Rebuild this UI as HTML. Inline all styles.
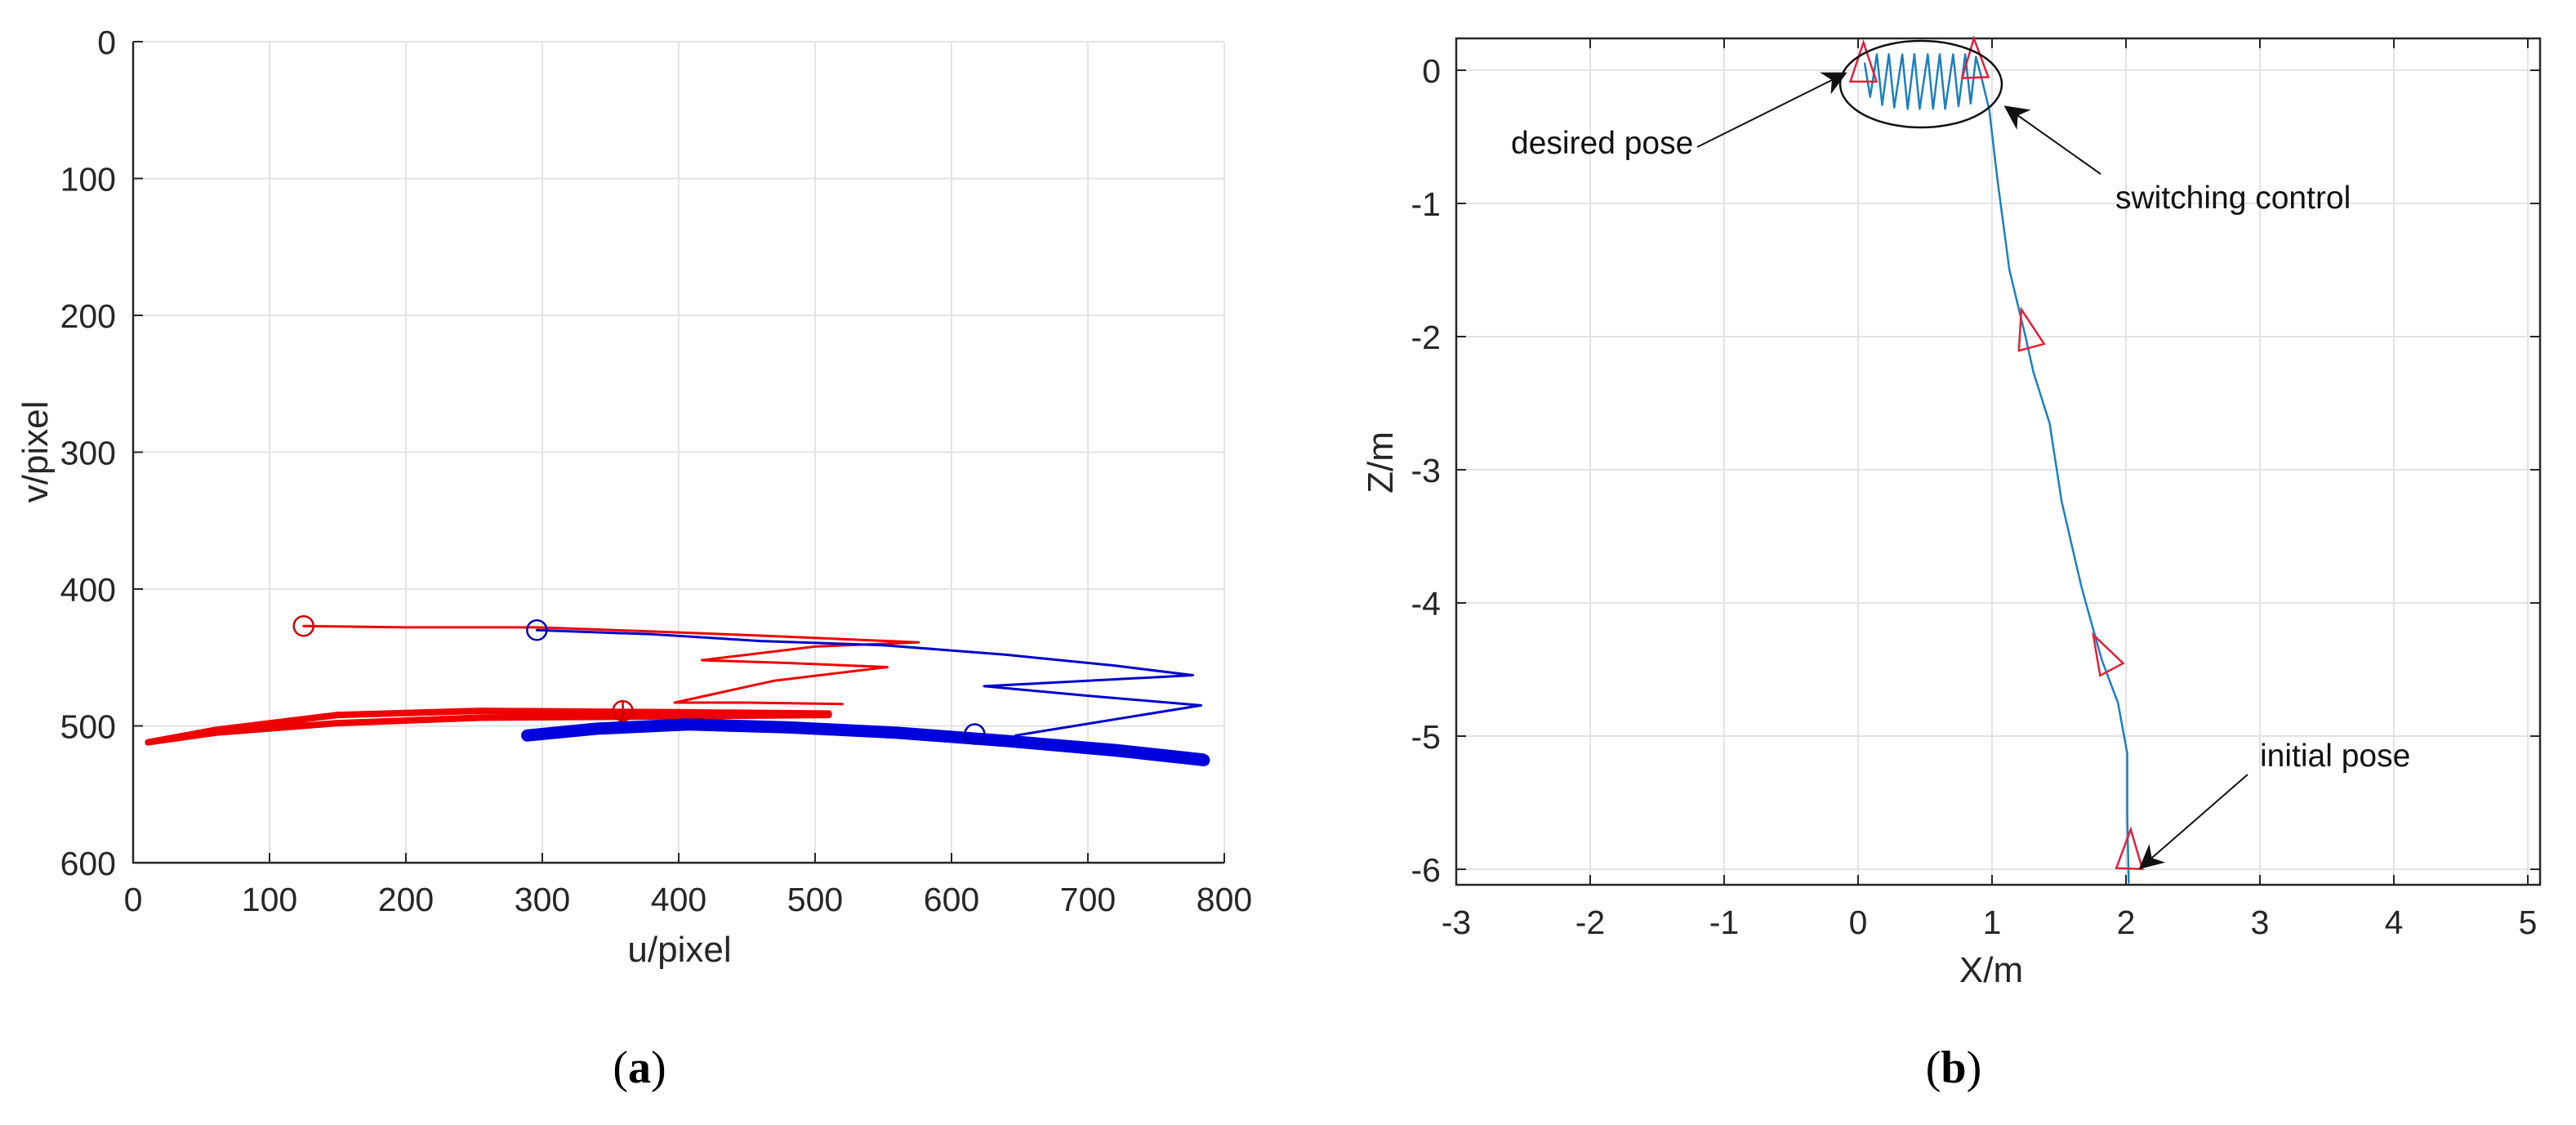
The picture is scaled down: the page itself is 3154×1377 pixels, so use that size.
<!DOCTYPE html>
<html><head><meta charset="utf-8"><style>
body{margin:0;background:#fff;overflow:hidden}
svg{display:block}
text{font-family:"Liberation Sans",sans-serif;fill:#262626}
</style></head><body>
<svg id="s" width="3154" height="1377" viewBox="0 0 3154 1377"></svg>
<script>
// ---- panel (a) data ----
const uTicks=[0,100,200,300,400,500,600,700,800];
const vTicks=[0,100,200,300,400,500,600];
const redU=[125,200,296,380,460,576,500,417,480,553,470,397,450,520];
const redV=[427,428,428,431,434,439,442,452,454,457,467,483,483,484];
const redBandU=[510,400,254,150,60,11,60,150,254,400,510];
const redBandV=[491,490,489,492,503,512,505,498,494,493,492];
const blueU=[296,380,460,550,640,720,777,624,700,783,647];
const blueV=[430,433,438,441,448,456,463,471,478,485,507];
const blueLowU=[647,720,785];
const blueLowV=[508,514,521];
const blueBandU=[289,340,407,480,560,640,720,785];
const blueBandV=[507,502,499,501,505,511,518,525];
const redStart=[125,427], redEnd=[359,489], blueStart=[296,430], blueEnd=[617,506];
// ---- panel (b) data ----
const xTicks=[-3,-2,-1,0,1,2,3,4,5];
const zTicks=[0,-1,-2,-3,-4,-5,-6];
const pathX=[2.02,2.01,2.01,1.94,1.82,1.67,1.52,1.43,1.31,1.25,1.13,1.04,0.98,0.92,0.88];
const pathZ=[-6.1,-5.6,-5.13,-4.75,-4.43,-3.89,-3.24,-2.65,-2.27,-2.0,-1.5,-0.82,-0.3,-0.05,0.1];
const zigX=[0.88,0.84,0.80,0.75,0.71,0.65,0.61,0.56,0.52,0.46,0.42,0.37,0.33,0.27,0.23,0.18,0.14,0.09,0.05];
const zigZ=[0.1,-0.25,0.12,-0.27,0.12,-0.29,0.12,-0.29,0.12,-0.29,0.12,-0.29,0.12,-0.28,0.12,-0.26,0.12,-0.2,0.05];
const triX=[0.04,0.87,1.26,1.83,2.03];
const triZ=[0.05,0.08,-1.95,-4.38,-5.86];
const triA=[-90,-92,-105,-118,-88];

const NS="http://www.w3.org/2000/svg", S=document.getElementById('s');
function mk(t,a,p){const e=document.createElementNS(NS,t);for(const k in a)e.setAttribute(k,a[k]);(p||S).appendChild(e);return e;}
const ax=u=>163+u*1.67, ay=v=>51+v*1.675;
const bx=x=>1783+(x+3)*164, by=z=>86-z*163;

// panel a
let g=mk('g',{});
uTicks.forEach(u=>{let l=mk('line',{x1:ax(u),x2:ax(u),y1:51,y2:1056,stroke:'#e3e3e3','stroke-width':2},g);
 let t=mk('text',{x:ax(u),y:1115,'font-size':41,'text-anchor':'middle'},g);t.textContent=u;
 mk('line',{x1:ax(u),x2:ax(u),y1:1056,y2:1044,stroke:'#262626','stroke-width':2},g);});
vTicks.forEach(v=>{let l=mk('line',{x1:163,x2:1499,y1:ay(v),y2:ay(v),stroke:'#e3e3e3','stroke-width':2},g);
 let t=mk('text',{x:142,y:ay(v)+15,'font-size':41,'text-anchor':'end'},g);t.textContent=v;
 mk('line',{x1:163,x2:175,y1:ay(v),y2:ay(v),stroke:'#262626','stroke-width':2},g);});
mk('path',{d:'M163 51V1056H1499',fill:'none',stroke:'#262626','stroke-width':2.5},g);
let t=mk('text',{x:832,y:1177,'font-size':44,'text-anchor':'middle'},g);t.textContent='u/pixel';
t=mk('text',{x:0,y:0,'font-size':44,'text-anchor':'middle',transform:'translate(58,553) rotate(-90)'},g);t.textContent='v/pixel';
function poly(X,Y,fx,fy,col,w,name,p){const pts=X.map((x,i)=>fx(x).toFixed(1)+','+fy(Y[i]).toFixed(1)).join(' ');const e=mk('polyline',{points:pts,fill:'none',stroke:col,'stroke-width':w,'stroke-linejoin':'round','stroke-linecap':'round'},p);return e;}
poly(redU,redV,ax,ay,'#e00','3','red-trajectory',g);
poly(redBandU,redBandV,ax,ay,'#e00','8','red-trajectory-settled',g);
poly(blueU,blueV,ax,ay,'#0000cc','3','blue-trajectory',g);
poly(blueLowU,blueLowV,ax,ay,'#0000cc','3','blue-trajectory-lower',g);
poly(blueBandU,blueBandV,ax,ay,'#0000dd','15','blue-trajectory-settled',g);
[[redStart,'#c00','red-start'],[blueStart,'#00a','blue-start'],[redEnd,'#c00','red-end'],[blueEnd,'#00a','blue-end']].forEach(([p,c,n])=>{let e=mk('circle',{cx:ax(p[0]),cy:ay(p[1]),r:12,fill:'none',stroke:c,'stroke-width':2.5},g);});
mk('line',{x1:ax(redEnd[0]),x2:ax(redEnd[0]),y1:ay(redEnd[1])-12,y2:ay(redEnd[1])+12,stroke:'#c00','stroke-width':2.5},g);
t=mk('text',{x:783,y:1325,'font-size':56,'text-anchor':'middle'});t.style.fontFamily='"Liberation Serif",serif';t.style.fill='#000';t.innerHTML='(<tspan font-weight="bold">a</tspan>)';

// panel b
g=mk('g',{});
const L=1783,R=3110,T=47,B=1083;
xTicks.forEach(x=>{let l=mk('line',{x1:bx(x),x2:bx(x),y1:T,y2:B,stroke:'#e3e3e3','stroke-width':2},g);
 let t=mk('text',{x:bx(x),y:1143,'font-size':41,'text-anchor':'middle'},g);t.textContent=x;
 mk('line',{x1:bx(x),x2:bx(x),y1:B,y2:B-12,stroke:'#262626','stroke-width':2},g);mk('line',{x1:bx(x),x2:bx(x),y1:T,y2:T+12,stroke:'#262626','stroke-width':2},g);});
zTicks.forEach(z=>{let l=mk('line',{x1:L,x2:R,y1:by(z),y2:by(z),stroke:'#e3e3e3','stroke-width':2},g);
 let t=mk('text',{x:1764,y:by(z)+15,'font-size':41,'text-anchor':'end'},g);t.textContent=z;
 mk('line',{x1:L,x2:L+12,y1:by(z),y2:by(z),stroke:'#262626','stroke-width':2},g);mk('line',{x1:R,x2:R-12,y1:by(z),y2:by(z),stroke:'#262626','stroke-width':2},g);});
mk('rect',{x:L,y:T,width:R-L,height:B-T,fill:'none',stroke:'#262626','stroke-width':2.5},g);
t=mk('text',{x:2438,y:1202,'font-size':44,'text-anchor':'middle'},g);t.textContent='X/m';
t=mk('text',{x:0,y:0,'font-size':44,'text-anchor':'middle',transform:'translate(1705,566) rotate(-90)'},g);t.textContent='Z/m';
poly(pathX,pathZ,bx,by,'#1a7fc0','2.5','trajectory-path',g);
poly(zigX,zigZ,bx,by,'#1a7fc0','2.5','switching-zigzag',g);
triX.forEach((x,i)=>{const cx=bx(x),cy=by(triZ[i]);const e=mk('polygon',{points:'26,0 -22,-16 -22,16',fill:'none',stroke:'#e0203a','stroke-width':2.5,transform:`translate(${cx},${cy}) rotate(${triA[i]})`},g);});
let e=mk('ellipse',{cx:2352,cy:103,rx:99,ry:53,fill:'none',stroke:'#111','stroke-width':2.5},g);
mk('defs',{}).innerHTML='<marker id="ah" viewBox="0 0 10 10" refX="9" refY="5" markerWidth="14" markerHeight="14" markerUnits="userSpaceOnUse" orient="auto"><path d="M0,0 L10,5 L0,10 L3,5z" fill="#111"/></marker>';
S.querySelector('marker').setAttribute('markerWidth',40);S.querySelector('marker').setAttribute('markerHeight',30);
[[2078,180,2259,90,'arrow-desired'],[2572,213,2456,131,'arrow-switching'],[2752,948,2621,1062,'arrow-initial']].forEach(a=>{let l=mk('line',{x1:a[0],y1:a[1],x2:a[2],y2:a[3],stroke:'#111','stroke-width':2,'marker-end':'url(#ah)'},g);});
[['desired pose',1850,188,'label-desired-pose'],['switching control',2590,255,'label-switching-control'],['initial pose',2767,938,'label-initial-pose']].forEach(a=>{let t=mk('text',{x:a[1],y:a[2],'font-size':39,fill:'#111'},g);t.style.fill='#111';t.textContent=a[0];});
t=mk('text',{x:2392,y:1325,'font-size':56,'text-anchor':'middle'});t.style.fontFamily='"Liberation Serif",serif';t.style.fill='#000';t.innerHTML='(<tspan font-weight="bold">b</tspan>)';
</script>
</body></html>
